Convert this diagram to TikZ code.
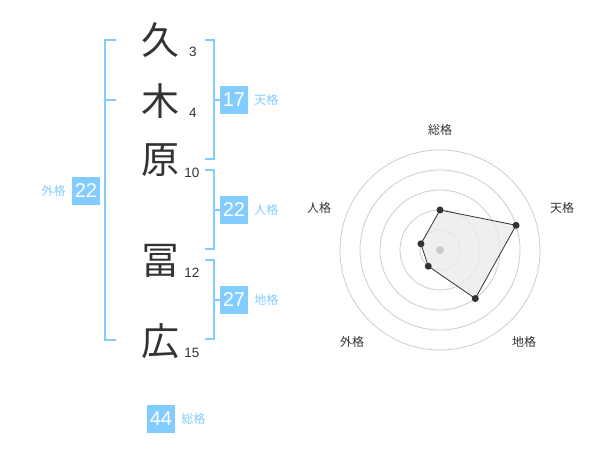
\documentclass[tikz,border=0pt]{standalone}
\usepackage{fontspec}
\usetikzlibrary{positioning,calc}
\setmainfont{Liberation Sans}
\newfontfamily\jp{Noto Sans CJK JP}
\definecolor{lblue}{RGB}{130,204,255}
\definecolor{dtext}{RGB}{51,51,51}
\definecolor{ring}{RGB}{204,204,204}
\begin{document}
\begin{tikzpicture}[x=1pt,y=-1pt,
  kanji/.style={font=\jp\fontsize{38}{38}\selectfont,text=dtext,inner sep=0pt},
  stroke/.style={font=\fontsize{13.5}{13.5}\selectfont,text=dtext,inner sep=0pt},
  bracket/.style={draw=lblue,line width=2pt},
  numbox/.style={fill=lblue,text=white,minimum width=28pt,minimum height=28pt,inner sep=0pt,font=\fontsize{20}{20}\selectfont},
  kaku/.style={text=lblue,font=\jp\fontsize{12}{12}\selectfont,inner sep=0pt},
  axlabel/.style={text=dtext,font=\jp\fontsize{12}{12}\selectfont,inner sep=0pt},
  ringline/.style={draw=ring,line width=0.8pt},
  vdot/.style={circle,fill=dtext,inner sep=0pt,minimum size=7pt}]
\useasboundingbox (0,0) rectangle (600,470);
% kanji
\node[kanji] (k1) at (160,40) {久};
\node[kanji] (k2) at (160,101) {木};
\node[kanji] (k3) at (160,160) {原};
\node[kanji] (k4) at (160,261) {冨};
\node[kanji] (k5) at (160,341) {広};
\node[stroke] (s1) at (193,52) {3};
\node[stroke] (s2) at (193,113) {4};
\node[stroke] (s3) at (192,173) {10};
\node[stroke] (s4) at (192,273) {12};
\node[stroke] (s5) at (192,353) {15};
% left bracket (gaikaku)
\coordinate (la) at (116,40);
\coordinate (lb) at (116,100);
\coordinate (lc) at (116,340);
\draw[bracket] (la) -- (105,40) -- (105,340) -- (lc);
\draw[bracket] (lb) -- (105,100);
\node[numbox] (b22a) at (86,191) {22};
\node[kaku,left=6pt of b22a] (t22a) {外格};
% right brackets
\draw[bracket] (205,40) -- (214,40) -- (214,159) -- (205,159);
\node[numbox] (b17) at (234,100) {17};
\draw[bracket] (214,100) -- (b17.west);
\node[kaku,right=6pt of b17] (t17) {天格};
\draw[bracket] (205,170) -- (214,170) -- (214,249) -- (205,249);
\node[numbox] (b22) at (234,210) {22};
\draw[bracket] (214,210) -- (b22.west);
\node[kaku,right=6pt of b22] (t22) {人格};
\draw[bracket] (205,260) -- (214,260) -- (214,339) -- (205,339);
\node[numbox] (b27) at (234,300) {27};
\draw[bracket] (214,300) -- (b27.west);
\node[kaku,right=6pt of b27] (t27) {地格};
\node[numbox] (b44) at (161,419) {44};
\node[kaku,right=6pt of b44] (t44) {総格};
% radar
\coordinate (c) at (440,250);
\foreach \r in {20,40,60,80,100} \draw[ringline] (c) circle (\r);
\coordinate (p1) at ($(c)+(0,-40)$);
\coordinate (p2) at ($(c)+({80*cos(18)},{-80*sin(18)})$);
\coordinate (p3) at ($(c)+({60*cos(54)},{60*sin(54)})$);
\coordinate (p4) at ($(c)+({-20*cos(54)},{20*sin(54)})$);
\coordinate (p5) at ($(c)+({-20*cos(18)},{-20*sin(18)})$);
\filldraw[fill=black!8,fill opacity=0.8,draw=dtext,line width=0.8pt] (p1) -- (p2) -- (p3) -- (p4) -- (p5) -- cycle;
\foreach \p in {p1,p2,p3,p4,p5} \node[vdot] at (\p) {};
\node[circle,fill=ring,inner sep=0pt,minimum size=8pt] (cd) at (c) {};
\node[axlabel] (a1) at (440,130) {総格};
\node[axlabel] (a2) at (562,208) {天格};
\node[axlabel] (a3) at (524,342) {地格};
\node[axlabel] (a4) at (352,342) {外格};
\node[axlabel] (a5) at (319,208) {人格};
\end{tikzpicture}
\end{document}
